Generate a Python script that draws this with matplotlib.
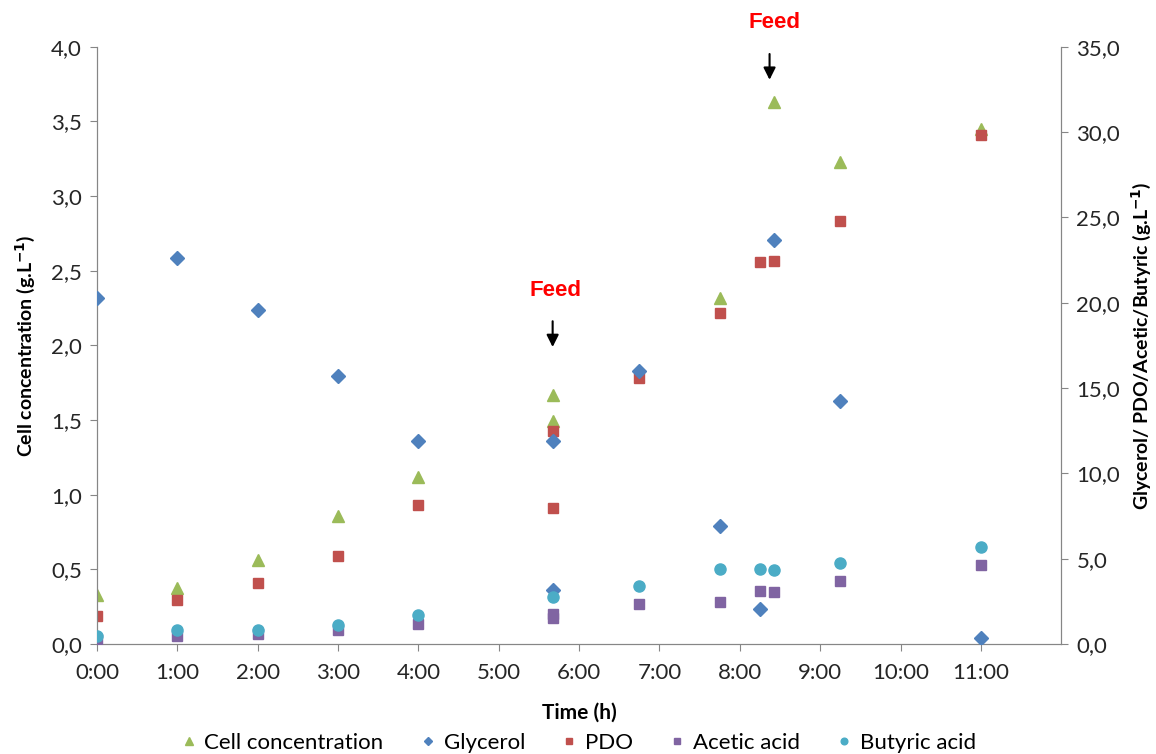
import matplotlib.pyplot as plt
from matplotlib.ticker import FuncFormatter, MultipleLocator

# sampling times (h)
t_cell = [0, 1, 2, 3, 4, 5.67, 5.67, 7.75, 8.42, 9.25, 11]
t_gly = [0, 1, 2, 3, 4, 5.67, 5.67, 6.75, 7.75, 8.25, 8.42, 9.25, 11]
t_pdo = [0, 1, 2, 3, 4, 5.67, 5.67, 6.75, 7.75, 8.25, 8.42, 9.25, 11]
t_acet = [0, 1, 2, 3, 4, 5.67, 5.67, 6.75, 7.75, 8.25, 8.42, 9.25, 11]
t_but = [0, 1, 2, 3, 4, 5.67, 6.75, 7.75, 8.25, 8.42, 9.25, 11]

# left axis (g/L)
cell = [0.33, 0.375, 0.56, 0.86, 1.12, 1.49, 1.67, 2.32, 3.63, 3.23, 3.45]
# right axis (g/L)
glycerol = [20.3, 22.6, 19.6, 15.7, 11.9, 11.9, 3.15, 16.0, 6.9, 2.07, 23.7, 14.25, 0.35]
pdo = [1.66, 2.58, 3.55, 5.14, 8.16, 7.95, 12.46, 15.6, 19.4, 22.37, 22.43, 24.8, 29.83]
acetic = [0.26, 0.44, 0.59, 0.84, 1.17, 1.52, 1.78, 2.36, 2.44, 3.1, 3.05, 3.71, 4.63]
butyric = [0.44, 0.79, 0.84, 1.09, 1.7, 2.73, 3.42, 4.39, 4.39, 4.32, 4.77, 5.68]

hour_ticks = list(range(12))
hour_labels = ["%d:00" % h for h in hour_ticks]

feed_times = [5.67, 8.4]

plt.rcParams['font.family'] = ['Lato', 'DejaVu Sans']

fig = plt.figure(figsize=(11.56, 7.54), dpi=100)
ax = fig.add_axes([0.084, 0.146, 0.834, 0.792])
ax2 = ax.twinx()

grey = '#868686'
for a in (ax, ax2):
    a.spines['top'].set_visible(False)
    for s in ('left', 'right', 'bottom'):
        a.spines[s].set_color(grey)
    a.tick_params(colors=grey, labelcolor='#262626', labelsize=16, length=5, direction='out', pad=6)
ax.tick_params(axis='x', pad=9)

ms = 8.5
c1, = ax.plot(t_cell, cell, ls='none', marker='^', ms=ms, color='#9BBB59', label='Cell concentration', zorder=2)
p, = ax2.plot(t_pdo, pdo, ls='none', marker='s', ms=ms - 1, color='#C0504D', label='PDO', zorder=2)
g, = ax2.plot(t_gly, glycerol, ls='none', marker='D', ms=ms - 1.5, color='#4F81BD', label='Glycerol', zorder=3)
ac, = ax2.plot(t_acet, acetic, ls='none', marker='s', ms=ms - 1, color='#8064A2', label='Acetic acid', zorder=4)
b, = ax2.plot(t_but, butyric, ls='none', marker='o', ms=ms - 0.5, color='#4BACC6', label='Butyric acid', zorder=5)

ax.set_xlim(0, 12)
ax.set_ylim(0, 4.0)
ax2.set_ylim(0, 35.0)
ax.set_xticks(hour_ticks)
ax.set_xticklabels(hour_labels)
ax.yaxis.set_major_locator(MultipleLocator(0.5))
ax2.yaxis.set_major_locator(MultipleLocator(5))
comma = FuncFormatter(lambda v, pos: ("%.1f" % v).replace('.', ','))
ax.yaxis.set_major_formatter(comma)
ax2.yaxis.set_major_formatter(comma)

ax.set_xlabel('Time (h)', fontsize=15, fontweight='bold', labelpad=14)
ax.set_ylabel(r'Cell concentration (g.L$^{\mathbf{-1}}$)', fontsize=14, fontweight='bold', labelpad=10)
ax2.set_ylabel(r'Glycerol/ PDO/Acetic/Butyric (g.L$^{\mathbf{-1}}$)', fontsize=14, fontweight='bold',
               rotation=90, labelpad=6)

# feed markers
ax.annotate('', xy=(feed_times[0], 1.97), xytext=(feed_times[0], 2.18),
            arrowprops=dict(arrowstyle='-|>', color='black', lw=1.5, mutation_scale=18))
ax.text(feed_times[0] + 0.03, 2.37, 'Feed', color='red', fontsize=16, fontweight='bold',
        family='Liberation Sans', ha='center', va='center')
ax.annotate('', xy=(feed_times[1] - 0.03, 3.76), xytext=(feed_times[1] - 0.03, 3.97),
            arrowprops=dict(arrowstyle='-|>', color='black', lw=1.5, mutation_scale=18), annotation_clip=False)
ax.text(feed_times[1] + 0.03, 4.16, 'Feed', color='red', fontsize=16, fontweight='bold',
        family='Liberation Sans', ha='center', va='center', clip_on=False)

fig.legend(handles=[c1, g, p, ac, b], loc='lower center', bbox_to_anchor=(0.5, -0.025), ncol=5,
           frameon=False, fontsize=16, markerscale=0.6, handlelength=0.8, handletextpad=0.3,
           columnspacing=1.6)

fig.savefig('out.png', dpi=100)
